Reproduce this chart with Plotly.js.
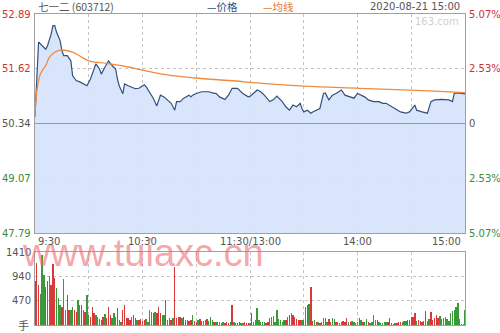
<!DOCTYPE html>
<html>
<head>
<meta charset="utf-8">
<script src="https://cdn.plot.ly/plotly-3.0.1.min.js"></script>
<style>html,body{margin:0;padding:0;background:#fff;}#chart{width:500px;height:333px;}</style>
</head>
<body>
<div id="chart"></div>
<script>
// ---- data ----
const priceMinutes = [0,2,4,6,7,9,10,11,12,14,15,16,18,20,21,23,25,27,29,31,33,34,36,37,39,41,43,45,46,47,49,50,52,54,56,58,61,62,64,66,68,70,72,74,76,78,79,81,83,86,87,88,90,93,97,100,101,103,106,108,110,113,114,116,119,120,124,126,128,131,133,135,138,140,142,144,146,148,149,150,152,154,155,157,159,161,162,164,166,168,171,173,176,178,180,184,186,189,192,194,196,199,201,204,207,209,212,213,216,219,221,223,227,231,233,234,236,239,240];
const priceValues = [50.50,52.24,52.15,52.07,52.15,52.42,52.62,52.62,52.47,52.27,52.04,51.92,51.92,51.80,51.45,51.34,51.31,51.26,51.22,51.38,51.61,51.73,51.61,51.49,51.65,51.80,51.69,51.61,51.38,51.22,51.03,51.26,51.22,51.18,51.15,51.16,51.24,51.20,51.08,50.93,50.75,51.00,50.96,50.89,50.81,50.65,50.85,50.85,50.93,51.00,50.96,51.00,51.04,51.08,51.08,51.04,51.04,50.96,50.90,51.00,51.16,51.16,51.12,51.04,50.96,50.97,51.12,51.08,51.00,50.85,50.89,50.98,50.85,50.73,50.65,50.77,50.73,50.81,50.69,50.61,50.65,50.58,50.61,50.65,50.69,51.04,51.05,50.89,51.00,51.04,51.12,51.00,50.96,50.93,51.04,50.96,50.89,50.85,50.85,50.81,50.81,50.73,50.69,50.61,50.58,50.61,50.77,50.65,50.61,50.58,50.85,50.89,50.90,50.89,50.85,51.04,51.05,51.04,51.03];
const avgMinutes = [0,1,3,6,8,11,14,21,30,40,53,56,74,89,112,122,150,181,220,240];
const avgValues = [50.50,51.10,51.49,51.69,51.88,52.00,52.05,52.00,51.80,51.74,51.65,51.62,51.47,51.40,51.33,51.29,51.21,51.16,51.10,51.06];

const volumes = [850,1191,773,592,1352,966,740,850,953,773,1172,901,708,515,386,354,882,290,580,290,290,354,290,258,483,386,386,290,258,580,193,161,354,225,193,161,116,97,161,206,129,354,193,129,225,161,322,97,64,290,386,129,129,97,161,193,129,97,97,116,77,97,116,64,290,258,225,258,225,354,225,193,193,483,97,142,97,129,1127,142,161,161,142,161,97,97,77,97,193,77,64,97,116,77,77,97,116,77,161,97,52,64,52,52,32,52,32,52,32,52,386,52,32,32,52,32,32,64,32,40,40,
225,64,97,322,97,64,52,52,32,64,129,161,180,64,290,116,97,64,97,97,161,193,225,193,161,116,97,97,97,97,354,386,400,740,77,97,64,52,32,52,129,129,52,116,52,129,116,64,52,32,64,77,52,129,64,52,77,52,32,52,129,97,64,52,116,64,32,52,193,97,97,52,32,32,52,52,52,129,32,13,32,32,52,52,64,77,77,97,97,161,161,225,77,97,77,52,77,270,77,116,258,97,142,193,142,180,116,129,161,116,77,225,270,290,354,419,116,10,10,290];
const volumeDir = "rrrgggrrgrrrgggrggrrggrrggrgrggrrrgggrrgrrrgggrggrrrrrgrrgrrrrggggrgrrrggrggrgrrrrgrrrrrgrrgrrggrgggrgrgrgrrrgrggrrg" +
                  "grrrgrgggggggrrrggggggggrgrgrrrrrgrgrgrrgrgrrgrgrrggrgggrrrgrggggrgrggrggggrgggggrrrggrrrgggrrrrrgrrrrrggrrrrrgggg";
const priceTicks = [52.89, 51.62, 50.34, 49.07, 47.79];
const pctTicks = ["5.07%", "2.53%", "0", "2.53%", "5.07%"];
const volTicks = [1410, 940, 470];
const timeTickVals = [0, 60, 120, 180, 240];
const timeTickText = ["9:30", "10:30", "11:30/13:00", "14:00", "15:00"];

// ---- build ----
const volMinutes = volumes.map((v, i) => i);
const volColors = volumes.map((v, i) => volumeDir[i] === 'r' ? '#d8383a' : '#3a9a3a');

const traces = [
  {x: priceMinutes, y: priceValues, type: 'scatter', mode: 'lines', fill: 'tozeroy',
   fillcolor: 'rgba(214,228,250,0.95)', line: {color: '#34507c', width: 1.2}, xaxis: 'x', yaxis: 'y', hoverinfo: 'skip'},
  {x: avgMinutes, y: avgValues, type: 'scatter', mode: 'lines', line: {color: '#f08a3c', width: 1.3, shape: 'spline'},
   xaxis: 'x', yaxis: 'y', hoverinfo: 'skip'},
  {x: volMinutes, y: volumes, type: 'bar', marker: {color: volColors, line: {width: 0}}, width: 0.75,
   xaxis: 'x2', yaxis: 'y2', hoverinfo: 'skip'}
];

const labelFont = 'DejaVu Sans, Verdana, sans-serif';
const ann = [];
const leftColors = ['#d03030', '#d03030', '#555555', '#3a8a3a', '#3a8a3a'];
priceTicks.forEach((p, i) => {
  ann.push({xref: 'paper', yref: 'y', x: 0, y: p, xanchor: 'right', yanchor: 'middle', xshift: -2,
    text: p.toFixed(2), showarrow: false, font: {family: labelFont, size: 10, color: leftColors[i]}});
  ann.push({xref: 'paper', yref: 'y', x: 1, y: p, xanchor: 'left', yanchor: 'middle', xshift: 2,
    text: pctTicks[i], showarrow: false, font: {family: labelFont, size: 10, color: leftColors[i]}});
});
volTicks.forEach(v => {
  ann.push({xref: 'paper', yref: 'y2', x: 0, y: v, xanchor: 'right', yanchor: 'middle', xshift: -2,
    text: String(v), showarrow: false, font: {family: labelFont, size: 10, color: '#555'}});
});
ann.push({xref: 'paper', yref: 'y2', x: 0, y: 0, xanchor: 'right', yanchor: 'middle', xshift: -4,
  text: '手', showarrow: false, font: {family: 'Noto Sans CJK SC, sans-serif', size: 11, color: '#555'}});
timeTickVals.forEach((t, i) => {
  const anchor = i === 0 ? 'left' : (i === timeTickVals.length - 1 ? 'right' : 'center');
  ann.push({xref: 'x', yref: 'y', x: t, y: 47.79, xanchor: anchor, yanchor: 'top', yshift: -1,
    xshift: i === 0 ? 1 : (i === timeTickVals.length - 1 ? -2 : 0),
    text: timeTickText[i], showarrow: false, font: {family: labelFont, size: 10, color: '#555'}});
});
const cjk = 'Noto Sans CJK SC, DejaVu Sans, sans-serif';
ann.push({xref: 'paper', yref: 'paper', x: 0, y: 1.024, xanchor: 'left', yanchor: 'middle', xshift: 1,
  text: '七一二 (603712)', showarrow: false, font: {family: cjk, size: 10.5, color: '#555'}});
ann.push({xref: 'paper', yref: 'paper', x: 0.395, y: 1.024, xanchor: 'left', yanchor: 'middle',
  text: '—价格', showarrow: false, font: {family: cjk, size: 10.5, color: '#34507c'}});
ann.push({xref: 'paper', yref: 'paper', x: 0.525, y: 1.024, xanchor: 'left', yanchor: 'middle',
  text: '—均线', showarrow: false, font: {family: cjk, size: 10.5, color: '#e8782a'}});
ann.push({xref: 'paper', yref: 'paper', x: 1, y: 1.024, xanchor: 'right', yanchor: 'middle', xshift: -3,
  text: '2020-08-21 15:00', showarrow: false, font: {family: labelFont, size: 10, color: '#555'}});
ann.push({xref: 'paper', yref: 'paper', x: 1, y: 0.975, xanchor: 'right', yanchor: 'middle', xshift: -4,
  text: '163.com', showarrow: false, font: {family: labelFont, size: 10, color: '#cfcfcf'}});
ann.push({xref: 'paper', yref: 'paper', x: -0.035, y: 0.23, xanchor: 'left', yanchor: 'middle',
  text: 'www.tuiaxc.cn', showarrow: false, font: {family: 'Liberation Sans, Arial, sans-serif', size: 38, color: 'rgba(238,110,115,0.62)'}});

const gridVals = [30, 60, 90, 120, 150, 180, 210];
const layout = {
  width: 500, height: 333,
  margin: {l: 35, r: 35, t: 14, b: 8, pad: 0},
  paper_bgcolor: '#ffffff', plot_bgcolor: '#ffffff',
  showlegend: false,
  bargap: 0,
  xaxis: {domain: [0, 1], range: [0, 240], anchor: 'y', tickvals: gridVals, showticklabels: false, ticks: '',
    showgrid: true, griddash: 'dot', gridcolor: '#c4c4c4', gridwidth: 1, zeroline: false,
    showline: true, mirror: true, linecolor: '#a0a0a0', linewidth: 1, fixedrange: true},
  yaxis: {domain: [0.2958, 1], range: [47.79, 52.89], anchor: 'x', tickvals: [51.62, 49.07], showticklabels: false, ticks: '',
    showgrid: true, griddash: 'dot', gridcolor: '#c4c4c4', zeroline: false,
    showline: true, mirror: true, linecolor: '#a0a0a0', linewidth: 1, fixedrange: true},
  xaxis2: {domain: [0, 1], range: [0, 240], anchor: 'y2', tickvals: gridVals, showticklabels: false, ticks: '',
    showgrid: true, griddash: 'dot', gridcolor: '#c4c4c4', zeroline: false,
    showline: true, mirror: true, linecolor: '#a0a0a0', linewidth: 1, fixedrange: true},
  yaxis2: {domain: [0, 0.2347], range: [0, 1410], anchor: 'x2', tickvals: [940, 470], showticklabels: false, ticks: '',
    showgrid: true, griddash: 'dot', gridcolor: '#c4c4c4', zeroline: false,
    showline: true, mirror: true, linecolor: '#a0a0a0', linewidth: 1, fixedrange: true},
  shapes: [
    {type: 'line', xref: 'paper', yref: 'y', x0: 0, x1: 1, y0: 50.34, y1: 50.34, line: {color: '#9a9a9a', width: 1}}
  ],
  annotations: ann
};

Plotly.newPlot('chart', traces, layout, {staticPlot: true, displayModeBar: false});
</script>
</body>
</html>
